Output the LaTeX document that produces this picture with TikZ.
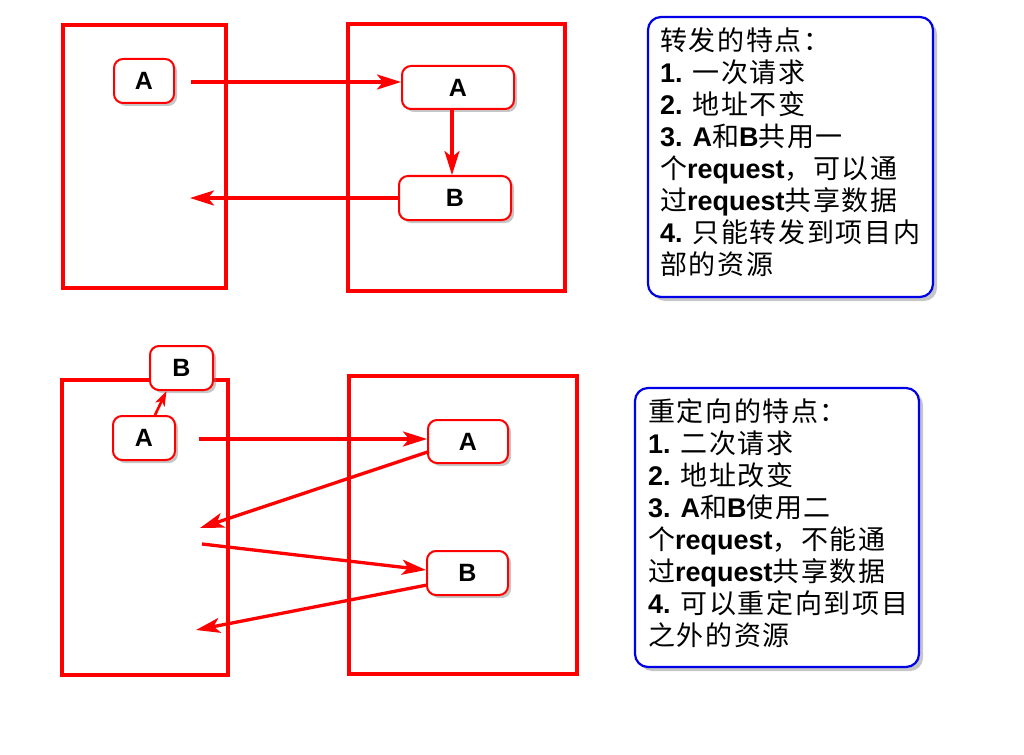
\documentclass[tikz,border=0pt]{standalone}
\usepackage{fontspec}
\setmainfont{Liberation Sans}
\newfontfamily\cjk[LetterSpace=6]{Noto Sans CJK SC}
\newcommand{\lt}[1]{{\bfseries #1}}
\newcommand{\zh}[1]{{\cjk #1}}
\usetikzlibrary{arrows.meta,shadows,calc}
\definecolor{boxred}{RGB}{255,0,0}
\definecolor{boxblue}{RGB}{0,0,230}
\tikzset{
  frame/.style={draw=boxred,line width=3.5pt},
  rnode/.style={draw=boxred,line width=2pt,fill=white,rounded corners=9pt,
    font=\fontsize{25}{25}\selectfont\bfseries,inner sep=0pt,
    drop shadow={opacity=0.45,shadow xshift=3pt,shadow yshift=-3pt}},
  conn/.style={draw=boxred,line width=3.3pt,-{Stealth[length=24pt,width=15pt,inset=6pt]}},
  note/.style={draw=boxblue,line width=2.2pt,fill=white,rounded corners=13pt,
    drop shadow={opacity=0.45,shadow xshift=4pt,shadow yshift=-4pt}},
  notetext/.style={anchor=north west,align=left,inner sep=0pt,
    font=\fontsize{27}{32}\selectfont}
}
\begin{document}
\begin{tikzpicture}[x=1pt,y=-1pt]
\useasboundingbox (0,0) rectangle (1024,754);
% ---------- top: forward ----------
\draw[frame] (63,25) rectangle (226,288);
\draw[frame] (348,24) rectangle (565,291);
\node[rnode,minimum width=60pt,minimum height=44pt] (tlA) at (144,81) {A};
\node[rnode,minimum width=112pt,minimum height=43pt] (trA) at (458,87.5) {A};
\node[rnode,minimum width=112pt,minimum height=44pt] (trB) at (455,198) {B};
\coordinate (t1) at (191,82);
\coordinate (t2) at (190,198);
\draw[conn] (t1) -- (t1 -| trA.west);
\draw[conn] (trA.south -| 452,0) -- (trB.north -| 452,0);
\draw[conn] (trB.west |- t2) -- (t2);
\path[note] (648,17) rectangle (933,297);
\node[notetext] (ntop) at (660,28) {%
\zh{转发的特点：}\\
\lt{1.} \zh{一次请求}\\
\lt{2.} \zh{地址不变}\\
\lt{3.} \lt{A}\zh{和}\lt{B}\zh{共用一}\\
\zh{个}\lt{request}\zh{，可以通}\\
\zh{过}\lt{request}\zh{共享数据}\\
\lt{4.} \zh{只能转发到项目内}\\
\zh{部的资源}};
% ---------- bottom: redirect ----------
\draw[frame] (62,380) rectangle (228,675);
\draw[frame] (349,376) rectangle (577,674);
\node[rnode,minimum width=63pt,minimum height=44pt] (blB) at (181.5,368) {B};
\node[rnode,minimum width=62pt,minimum height=44pt] (blA) at (144,438) {A};
\node[rnode,minimum width=80pt,minimum height=43pt] (brA) at (468,441.5) {A};
\node[rnode,minimum width=81pt,minimum height=44pt] (brB) at (467.5,573) {B};
\draw[draw=boxred,line width=2.6pt,-{Stealth[length=15pt,width=10pt,inset=4pt]}] ($(blA.north)+(11,0)$) -- ($(blB.south)+(-15,0)$);
\coordinate (b1) at (199,439);
\coordinate (b2) at (200,528);
\coordinate (b3) at (202,544);
\coordinate (b4) at (196,630);
\draw[conn] (b1) -- (b1 -| brA.west);
\draw[conn] ($(brA.west)+(2,10)$) -- (b2);
\draw[conn] (b3) -- ($(brB.west)+(0,-3)$);
\draw[conn] ($(brB.west)+(1,12)$) -- (b4);
\path[note] (635,388) rectangle (919,667);
\node[notetext] (nbot) at (648,398) {%
\zh{重定向的特点：}\\
\lt{1.} \zh{二次请求}\\
\lt{2.} \zh{地址改变}\\
\lt{3.} \lt{A}\zh{和}\lt{B}\zh{使用二}\\
\zh{个}\lt{request}\zh{，不能通}\\
\zh{过}\lt{request}\zh{共享数据}\\
\lt{4.} \zh{可以重定向到项目}\\
\zh{之外的资源}};
\end{tikzpicture}
\end{document}
